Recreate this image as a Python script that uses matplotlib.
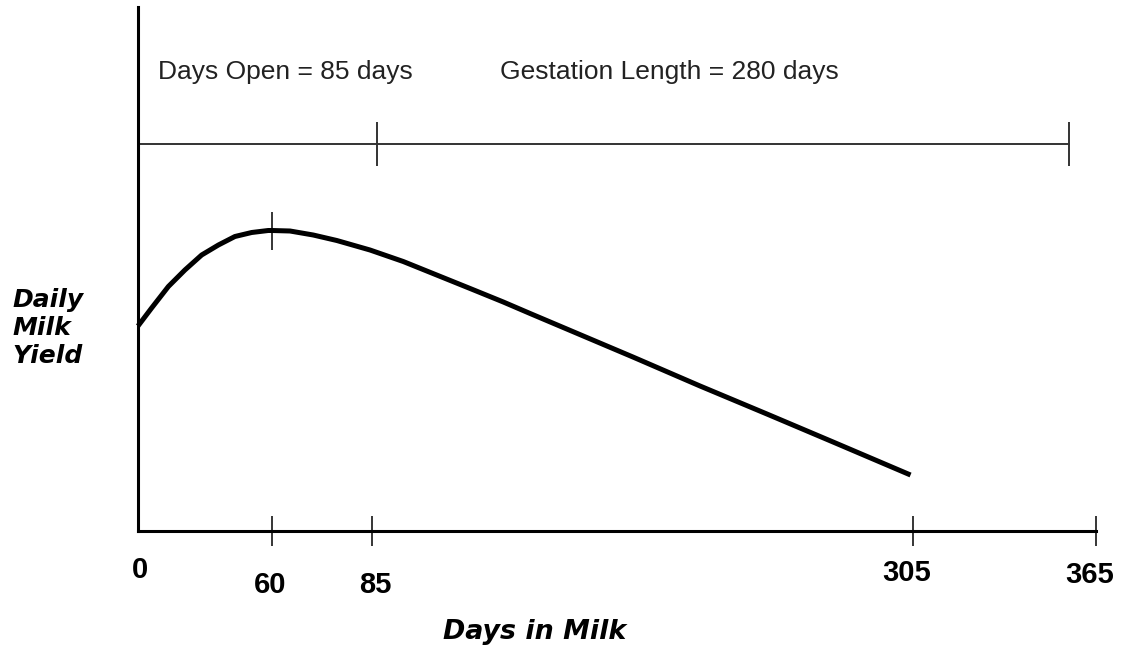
import numpy as np
import matplotlib
matplotlib.use("Agg")
import matplotlib.pyplot as plt
import matplotlib.transforms as mtransforms

# Lactation curve (days in milk, relative daily yield)
curve_days = [0, 6.1, 13.6, 21.0, 28.5, 36.0, 43.4, 50.9, 58.3, 60, 64.5, 70.3, 76.2,
              84.5, 97.7, 111.3, 124.9, 138.4, 149.3, 164.2, 191.1, 218.4, 245.6,
              272.5, 304]
curve_yield = [41.0, 44.6, 48.9, 52.2, 55.2, 57.2, 58.9, 59.7, 60.1, 60.1, 60.0, 59.2,
               58.1, 56.2, 53.9, 51.2, 48.5, 45.8, 43.5, 40.4, 34.8, 29.0, 23.4,
               17.8, 11.2]

tick_days = [0, 60, 85, 305, 365]
tick_labels = ["0", "60", "85", "305", "365"]

peak_day = 60
peak_yield = 60.1

# calendar bar across the top: days open ends, then calving again
gest_level = 77.4
gest_marks = [87, 356]

open_text = "Days Open = 85 days"
gest_text = "Gestation Length = 280 days"

# the sketch is not drawn to a linear scale: pixel position of each labelled day
axis_pos = [138, 272, 372, 913, 1096]


def fwd(d):
    return np.interp(d, tick_days, axis_pos)


def inv(p):
    return np.interp(p, axis_pos, tick_days)


W, H = 1121, 649
fig = plt.figure(figsize=(W / 100, H / 100), dpi=100)
ax = fig.add_axes([138 / W, (H - 531) / H, (1096 - 138) / W, (531 - 7) / H])
ax.set_xscale("function", functions=(fwd, inv))
ax.set_xlim(0, 365)
ax.set_ylim(0, 104.8)

for side in ["top", "right"]:
    ax.spines[side].set_visible(False)
for side in ["left", "bottom"]:
    ax.spines[side].set_linewidth(2.2)
    ax.spines[side].set_color("black")

ax.set_yticks([])
ax.set_xticks(tick_days[1:])
ax.set_xticklabels([])
ax.xaxis.set_minor_locator(matplotlib.ticker.NullLocator())
ax.tick_params(axis="x", direction="inout", length=22, width=1.1, color="black")

# milk yield curve
ax.plot(curve_days, curve_yield, color="black", lw=3.6, solid_capstyle="butt",
        solid_joinstyle="round", clip_on=False)
ax.plot([peak_day], [peak_yield], ls="none", marker="|", ms=27, mew=1.1, color="black")

# days open / gestation bar
ax.plot([0, gest_marks[-1]], [gest_level, gest_level], color="#333333", lw=1.4)
ax.plot(gest_marks, [gest_level] * len(gest_marks), ls="none", marker="|", ms=31,
        mew=1.4, color="#333333")

ax.text(9, 90.4, open_text, fontsize=19, family="Liberation Sans", color="#222222",
        va="baseline", ha="left")
ax.text(137, 90.4, gest_text, fontsize=19, family="Liberation Sans", color="#222222",
        va="baseline", ha="left")

# hand placed tick labels
label_dx = [2, -2, 3, -6, -6]
label_dy = [-39, -54, -54, -42, -44]
for d, lab, dx, dy in zip(tick_days, tick_labels, label_dx, label_dy):
    off = mtransforms.offset_copy(ax.transData, fig=fig, x=dx, y=dy, units="dots")
    ax.text(d, 0, lab, transform=off, fontsize=21, family="Liberation Sans",
            fontweight="bold", ha="center", va="center", clip_on=False)

fig.text(535 / W, 1 - 639 / H, "Days in Milk", fontsize=19.4, family="DejaVu Sans",
         fontweight="bold", style="oblique", ha="center", va="baseline")
fig.text(12 / W, 1 - 328 / H, "Daily\nMilk\nYield", fontsize=18, family="DejaVu Sans",
         fontweight="bold", style="oblique", ha="left", va="center", linespacing=1.2)

fig.savefig("out.png", dpi=100)
